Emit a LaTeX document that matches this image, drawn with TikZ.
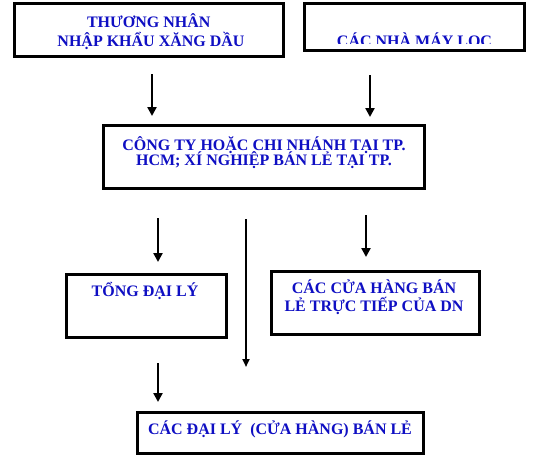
\documentclass[tikz,border=0pt]{standalone}
\usepackage{fontspec}
\setmainfont{Liberation Serif}
\usetikzlibrary{arrows.meta}
\definecolor{txtblue}{RGB}{15,15,195}
\begin{document}
\begin{tikzpicture}[x=1pt,y=-1pt,
  box/.style={draw=black, line width=3pt, inner sep=0pt},
  lbl/.style={font=\bfseries\fontsize{16}{16}\selectfont, text=txtblue, inner sep=0pt, anchor=base},
  arr/.style={line width=2.8pt, -{Triangle[width=9pt,length=9pt]}},
  longarr/.style={line width=2pt, -{Triangle[width=7pt,length=8pt]}}]
\useasboundingbox[fill=white] (0,0) rectangle (542,459);

% boxes
\node[box, minimum width=268.5pt, minimum height=53.5pt] (b1) at (148.75,29.75) {};
\node[box, minimum width=220pt, minimum height=47pt] (b2) at (414.5,26.5) {};
\node[box, minimum width=321pt, minimum height=63pt] (b3) at (263.5,156.5) {};
\node[box, minimum width=160pt, minimum height=63pt] (b4) at (146,305.5) {};
\node[box, minimum width=208pt, minimum height=63pt] (b5) at (375,302.5) {};
\node[box, minimum width=286pt, minimum height=41pt] (b6) at (280,432.5) {};

% texts
\node[lbl] (t1a) at (148.75,27) {THƯƠNG NHÂN};
\node[lbl] (t1b) at (151,46) {NHẬP KHẨU XĂNG DẦU};
\begin{scope}
  \clip (306,4.5) rectangle (523,43);
  \node[lbl] (t2) at (414.5,46) {CÁC NHÀ MÁY LỌC};
\end{scope}
\node[lbl] (t3a) at (264,150) {CÔNG TY HOẶC CHI NHÁNH TẠI TP.};
\node[lbl] (t3b) at (264,165.5) {HCM; XÍ NGHIỆP BÁN LẺ TẠI TP.};
\node[lbl] (t4) at (145,296) {TỔNG ĐẠI LÝ};
\node[lbl] (t5a) at (374,293) {CÁC CỬA HÀNG BÁN};
\node[lbl] (t5b) at (374,311) {LẺ TRỰC TIẾP CỦA DN};
\node[lbl] (t6) at (280,434) {CÁC ĐẠI LÝ\ \ (CỬA HÀNG) BÁN LẺ};

% arrow end points
\coordinate (a1s) at (152,74);  \coordinate (a1e) at (152,116);
\coordinate (a2s) at (370,75);  \coordinate (a2e) at (370,117);
\coordinate (a3s) at (158,218); \coordinate (a3e) at (158,262);
\coordinate (a4s) at (246,219); \coordinate (a4e) at (246,367);
\coordinate (a5s) at (366,215); \coordinate (a5e) at (366,257);
\coordinate (a6s) at (158,363); \coordinate (a6e) at (158,402);

\draw[arr] (a1s) -- (a1e);
\draw[arr] (a2s) -- (a2e);
\draw[arr] (a3s) -- (a3e);
\draw[longarr] (a4s) -- (a4e);
\draw[arr] (a5s) -- (a5e);
\draw[arr] (a6s) -- (a6e);
\end{tikzpicture}
\end{document}
